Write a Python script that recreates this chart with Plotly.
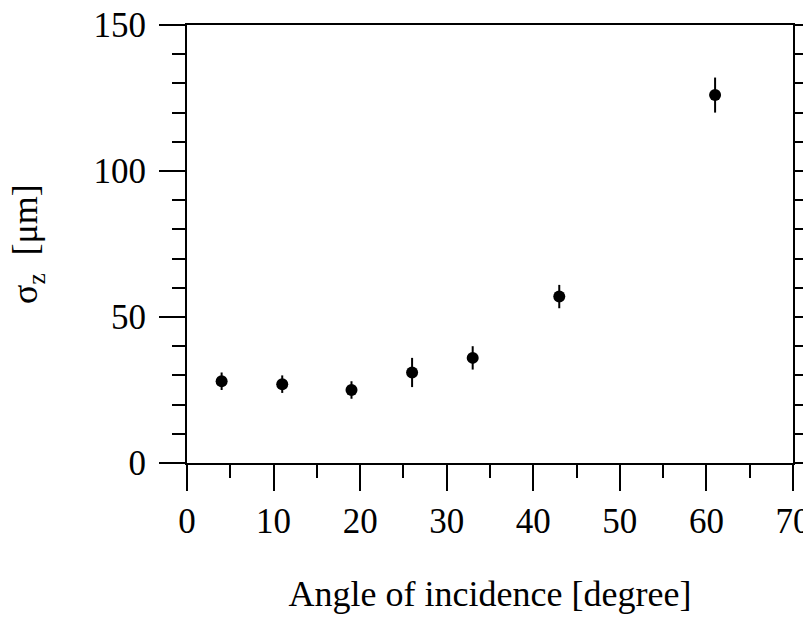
import plotly.graph_objects as go

angles = [4, 11, 19, 26, 33, 43, 61]
sigma_z = [28, 27, 25, 31, 36, 57, 126]
sigma_err = [3, 3, 3, 5, 4, 4, 6]

x_ticks = [0, 10, 20, 30, 40, 50, 60, 70]
y_ticks = [0, 50, 100, 150]

FONT = "Liberation Serif"

fig = go.Figure()
fig.add_trace(go.Scatter(
    x=angles, y=sigma_z, mode="markers",
    marker=dict(color="black", size=12),
    error_y=dict(type="data", array=sigma_err, visible=True,
                 color="black", thickness=2, width=0),
    showlegend=False,
))

fig.update_layout(
    width=811, height=617,
    margin=dict(l=179, r=26, t=17, b=162, autoexpand=False),
    paper_bgcolor="white", plot_bgcolor="white",
    font=dict(family=FONT, size=35, color="black"),
    xaxis=dict(
        range=[0, 70], tickvals=x_ticks, ticktext=[str(v) for v in x_ticks],
        ticks="outside", ticklen=26, tickwidth=2, tickcolor="black",
        showline=True, linecolor="black", linewidth=2, mirror=True,
        showgrid=False, zeroline=False,
        minor=dict(dtick=5, ticks="outside", ticklen=13, tickwidth=2,
                   tickcolor="black", showgrid=False),
        tickfont=dict(size=35, family=FONT),
        ticklabelstandoff=0,
        ticklabeloverflow="allow",
        title=dict(text="Angle of incidence [degree]", font=dict(size=36, family=FONT),
                   standoff=41),
        automargin=False,
    ),
    yaxis=dict(
        range=[0, 150], tickvals=y_ticks, ticktext=[str(v) for v in y_ticks],
        ticks="outside", ticklen=26, tickwidth=2, tickcolor="black",
        showline=True, linecolor="black", linewidth=2, mirror="ticks",
        showgrid=False, zeroline=False,
        minor=dict(dtick=10, ticks="outside", ticklen=13, tickwidth=2,
                   tickcolor="black", showgrid=False),
        tickfont=dict(size=35, family=FONT),
        ticklabelstandoff=6,
        ticklabeloverflow="allow",
        automargin=False,
    ),
    annotations=[dict(
        text="σ<sub>z</sub>  [μm]", textangle=-90,
        xref="paper", yref="paper", x=-0.264, y=0.5,
        xanchor="center", yanchor="middle", showarrow=False,
        font=dict(size=36, family=FONT, color="black"),
    )],
)

fig.write_html("out.html")
